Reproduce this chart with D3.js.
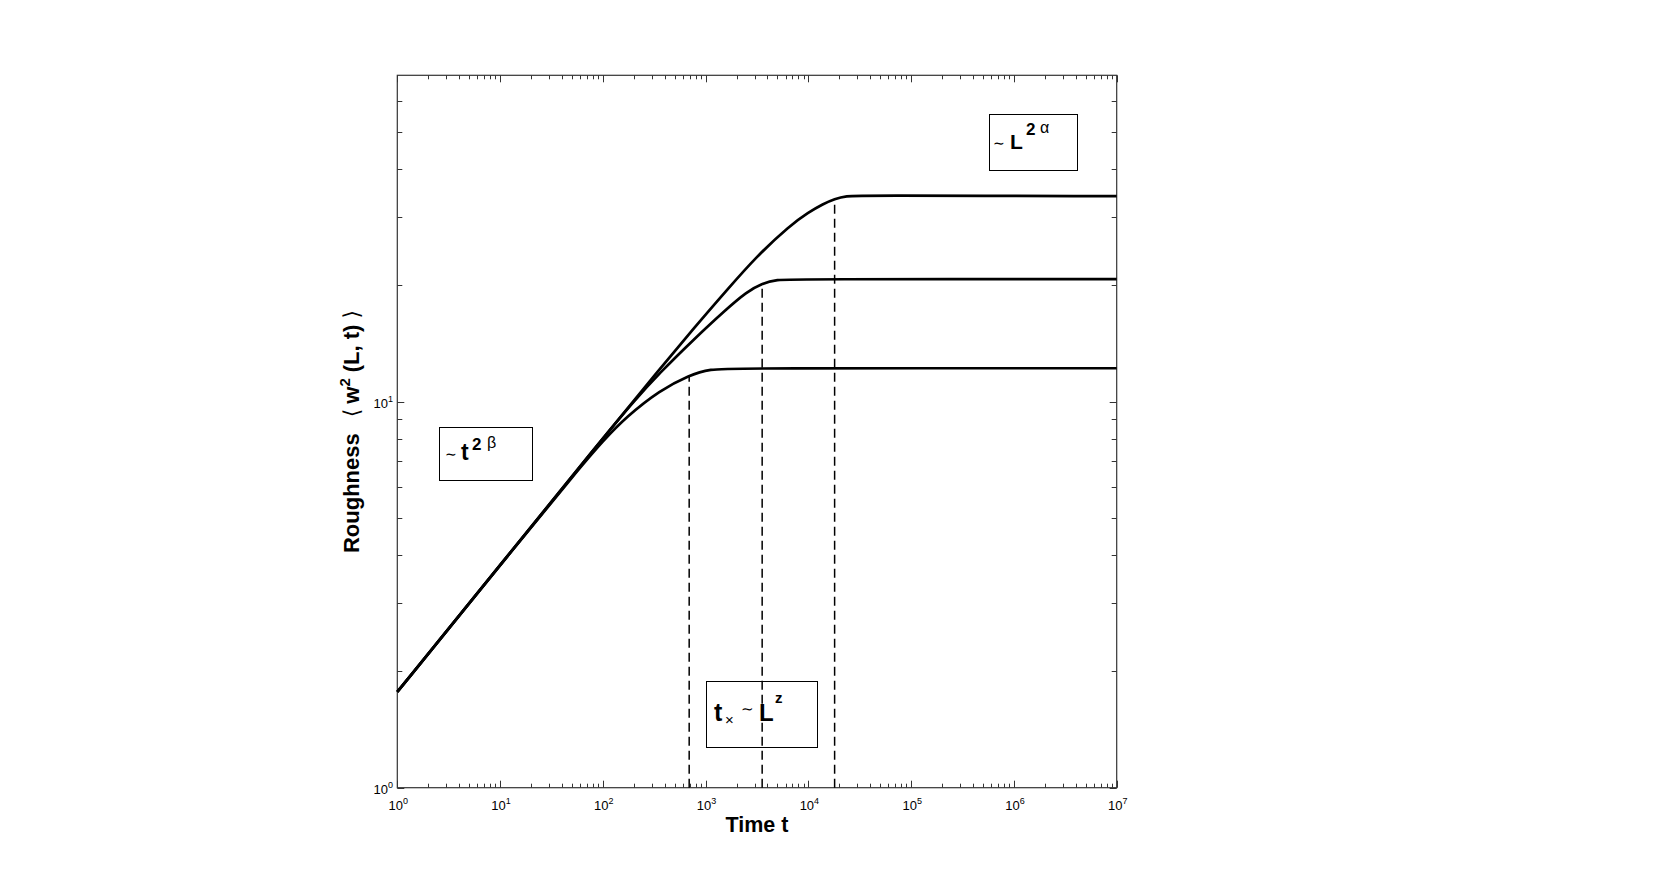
<!DOCTYPE html>
<html>
<head>
<meta charset="utf-8">
<script src="https://cdn.jsdelivr.net/npm/d3@7"></script>
<style>
  html, body { margin: 0; padding: 0; background: #fff; }
  svg { display: block; }
  text { font-family: "Liberation Sans", Arial, Helvetica, sans-serif; fill: #000; }
</style>
</head>
<body>
<svg id="chart" width="1654" height="875"></svg>
<script>
// ---------------- data ----------------
const smallT = [1, 10, 60, 100, 170, 360, 690, 1100, 2000, 1e7];
const smallW = [1.77, 3.77, 6.75, 7.9, 9.14, 10.7, 11.7, 12.15, 12.2, 12.2];

const mediumT = [1, 10, 100, 200, 360, 757, 1600, 2510, 3510, 5010, 7080, 1e7];
const mediumW = [1.77, 3.77, 8.04, 10.02, 11.89, 14.45, 17.38, 19.23, 20.23, 20.7, 20.75, 20.75];

const largeT = [1, 10, 100, 360, 757, 1600, 3133, 6607, 10000, 13930, 17990, 23550, 31620, 1e7];
const largeW = [1.77, 3.77, 8.04, 12.16, 15.42, 19.41, 23.77, 28.58, 30.9, 32.5, 33.5, 34.08, 34.18, 34.05];

// crossover times (dashed lines) and the curve value where each dashed line ends
const crossT = [692, 3550, 18000];
const crossW = [11.7, 20.25, 33.4];

const xMajorExp = [0, 1, 2, 3, 4, 5, 6, 7];
const yMajorExp = [0, 1];

// ---------------- layout ----------------
const svg = d3.select("#chart");
svg.append("rect").attr("width", 1654).attr("height", 875).attr("fill", "#fff");

const pL = 397.3, pR = 1116.7, pT = 75.3, pB = 787.7;
const x = d3.scaleLog().domain([1, 1e7]).range([pL, pR]);
const y = d3.scaleLog().domain([1, 70]).range([pB, pT]);

// minor ticks
const xMinor = [];
for (let e = 0; e < 7; e++) for (let m = 2; m <= 9; m++) xMinor.push(m * Math.pow(10, e));
const yMinor = [];
for (let e = 0; e < 2; e++) for (let m = 2; m <= 9; m++) { const v = m * Math.pow(10, e); if (v < 70) yMinor.push(v); }

const axisColor = "#333";
const tg = svg.append("g").attr("stroke", axisColor).attr("stroke-width", 1);
function xt(v, len) {
  const px = Math.round(x(v)) + 0.5;
  tg.append("line").attr("x1", px).attr("x2", px).attr("y1", pB).attr("y2", pB - len);
  tg.append("line").attr("x1", px).attr("x2", px).attr("y1", pT).attr("y2", pT + len);
}
function yt(v, len) {
  const py = Math.round(y(v)) + 0.5;
  tg.append("line").attr("x1", pL).attr("x2", pL + len).attr("y1", py).attr("y2", py);
  tg.append("line").attr("x1", pR).attr("x2", pR - len).attr("y1", py).attr("y2", py);
}
xMinor.forEach(v => xt(v, 4));
xMajorExp.forEach(e => xt(Math.pow(10, e), 7));
yMinor.forEach(v => yt(v, 5));
yMajorExp.forEach(e => yt(Math.pow(10, e), 7));

// frame
svg.append("rect")
  .attr("x", pL).attr("y", pT)
  .attr("width", pR - pL).attr("height", pB - pT)
  .attr("fill", "none").attr("stroke", axisColor).attr("stroke-width", 1.2);

// tick labels
xMajorExp.forEach(e => {
  const t = svg.append("text").attr("x", x(Math.pow(10, e)) + 1).attr("y", 810)
    .attr("text-anchor", "middle").attr("font-size", 13);
  t.append("tspan").text("10");
  t.append("tspan").attr("dy", -6).attr("font-size", 9).text(e);
});
yMajorExp.forEach(e => {
  const t = svg.append("text").attr("x", 393).attr("y", y(Math.pow(10, e)) + 6)
    .attr("text-anchor", "end").attr("font-size", 13);
  t.append("tspan").text("10");
  t.append("tspan").attr("dy", -6).attr("font-size", 9).text(e);
});

// axis titles
svg.append("text").attr("x", (pL + pR) / 2).attr("y", 832)
  .attr("text-anchor", "middle").attr("font-size", 21.5).attr("font-weight", "bold")
  .text("Time t");

const yl = svg.append("text")
  .attr("transform", `translate(359, ${(pT + pB) / 2}) rotate(-90)`)
  .attr("text-anchor", "middle").attr("font-size", 22);
yl.append("tspan").attr("font-weight", "bold").text("Roughness");
yl.append("tspan").attr("dx", 16).attr("font-family", "DejaVu Sans").attr("font-weight", "normal").attr("font-size", 22).text("\u27E8");
yl.append("tspan").attr("dx", 5).attr("font-weight", "bold").text("w");
yl.append("tspan").attr("dy", -9).attr("font-size", 15).attr("font-weight", "bold").text("2");
yl.append("tspan").attr("dy", 9).attr("dx", 6).attr("font-weight", "bold").text("(L, t)");
yl.append("tspan").attr("dx", 6).attr("font-family", "DejaVu Sans").attr("font-weight", "normal").attr("font-size", 22).text("\u27E9");

// curves
const line = d3.line().x(d => x(d[0])).y(d => y(d[1])).curve(d3.curveBasis);
[[smallT, smallW], [mediumT, mediumW], [largeT, largeW]].forEach(([ts, ws]) => {
  svg.append("path")
    .datum(ts.map((t, i) => [t, ws[i]]))
    .attr("d", line)
    .attr("fill", "none").attr("stroke", "#000").attr("stroke-width", 2.7)
    .attr("stroke-linejoin", "round");
});

// dashed crossover lines
crossT.forEach((t, i) => {
  svg.append("line")
    .attr("x1", x(t)).attr("x2", x(t))
    .attr("y1", y(1)).attr("y2", y(crossW[i]))
    .attr("stroke", "#000").attr("stroke-width", 1.5)
    .attr("stroke-dasharray", "9,5");
});

// annotation boxes
function box(bx, by, bw, bh) {
  svg.append("rect").attr("x", bx + 0.5).attr("y", by + 0.5).attr("width", bw).attr("height", bh)
    .attr("fill", "none").attr("stroke", "#000").attr("stroke-width", 1);
}
function piece(px, py, txt, size, bold, family) {
  const t = svg.append("text").attr("x", px).attr("y", py).attr("font-size", size)
    .attr("font-weight", bold ? "bold" : "normal").text(txt);
  if (family) t.attr("font-family", family);
}
// ~ t^{2 beta}
box(439, 427, 93, 53);
piece(445, 459, "\u223C", 14, false, "DejaVu Sans");
piece(461, 460, "t", 23, true);
piece(472, 450, "2", 17, true);
piece(487, 448, "\u03B2", 16, false);

// ~ L^{2 alpha}
box(989, 114, 88, 56);
piece(993, 148, "\u223C", 14, false, "DejaVu Sans");
piece(1010, 149, "L", 21, true);
piece(1026, 135, "2", 17, true);
piece(1040, 133, "\u03B1", 16, false);

// t_x ~ L^z
box(706, 681, 111, 66);
piece(714, 721, "t", 25, true);
piece(725, 725, "\u00D7", 15, false);
piece(741, 714, "\u223C", 15, false, "DejaVu Sans");
piece(759, 721, "L", 24, true);
piece(775, 703, "z", 15, true);
</script>
</body>
</html>
